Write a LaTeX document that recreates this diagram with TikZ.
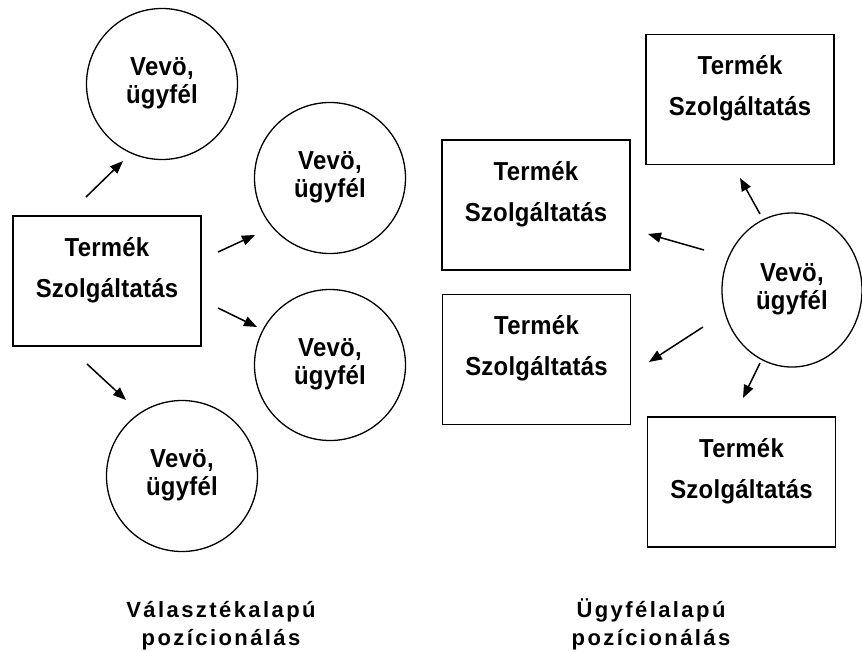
\documentclass[tikz,border=0pt]{standalone}
\usepackage{fontspec}
\setmainfont{Liberation Sans}
\newfontfamily\nodefont{Liberation Sans}[LetterSpace=1,FakeStretch=0.92]
\newfontfamily\labfont{Liberation Sans}[LetterSpace=11]
\usetikzlibrary{arrows.meta,shapes.geometric}
\begin{document}
\begin{tikzpicture}[x=1pt,y=-1pt,
  cust/.style={circle,draw,line width=1.3pt,minimum size=151pt,inner sep=0pt,align=center,
    font=\nodefont\bfseries\fontsize{26}{28}\selectfont,text depth=7pt},
  custe/.style={ellipse,draw,line width=1.3pt,minimum width=140pt,minimum height=154pt,inner sep=0pt,align=center,
    font=\nodefont\bfseries\fontsize{26}{28}\selectfont,text depth=7pt},
  prod/.style={rectangle,draw,line width=1.3pt,minimum width=188pt,minimum height=130pt,inner sep=0pt,align=center,
    font=\nodefont\bfseries\fontsize{26}{41}\selectfont,text depth=28pt},
  arr/.style={line width=1.5pt,-{Triangle[length=13pt,width=10pt]}},
  caption/.style={align=center,anchor=base,inner sep=0pt,font=\labfont\bfseries\fontsize{22}{28}\selectfont}]
\fill[white] (0,0) rectangle (862,651);
\useasboundingbox (0,0) rectangle (862,651);

% left group
\node[prod] (L) at (107,281) {Termék\\Szolgáltatás};
\node[cust] (C1) at (162,84) {Vevö,\\ügyfél};
\node[cust] (C2) at (330,178) {Vevö,\\ügyfél};
\node[cust] (C3) at (330,365) {Vevö,\\ügyfél};
\node[cust] (C4) at (182,476) {Vevö,\\ügyfél};

\coordinate (a1s) at (86,197);  \coordinate (a1e) at (123,161);
\coordinate (a2s) at (218,252); \coordinate (a2e) at (255,235);
\coordinate (a3s) at (218,308); \coordinate (a3e) at (257,327);
\coordinate (a4s) at (87,364);  \coordinate (a4e) at (126,400);
\draw[arr] (a1s) -- (a1e);
\draw[arr] (a2s) -- (a2e);
\draw[arr] (a3s) -- (a3e);
\draw[arr] (a4s) -- (a4e);

% right group
\node[custe] (CR) at (792,290) {Vevö,\\ügyfél};
\node[prod] (R1) at (740,99.5) {Termék\\Szolgáltatás};
\node[prod] (R2) at (536,205) {Termék\\Szolgáltatás};
\node[prod] (R3) at (536.5,359.5) {Termék\\Szolgáltatás};
\node[prod] (R4) at (741.5,482) {Termék\\Szolgáltatás};

\coordinate (b1s) at (760,214); \coordinate (b1e) at (740,178);
\coordinate (b2s) at (704,250); \coordinate (b2e) at (648,234);
\coordinate (b3s) at (703,327); \coordinate (b3e) at (649,362);
\coordinate (b4s) at (760,363); \coordinate (b4e) at (743,398);
\draw[arr] (b1s) -- (b1e);
\draw[arr] (b2s) -- (b2e);
\draw[arr] (b3s) -- (b3e);
\draw[arr] (b4s) -- (b4e);

% captions
\node[caption] (capL) at (221,645) {Választékalapú\\pozícionálás};
\node[caption] (capR) at (651,645) {Ügyfélalapú\\pozícionálás};
\end{tikzpicture}
\end{document}
